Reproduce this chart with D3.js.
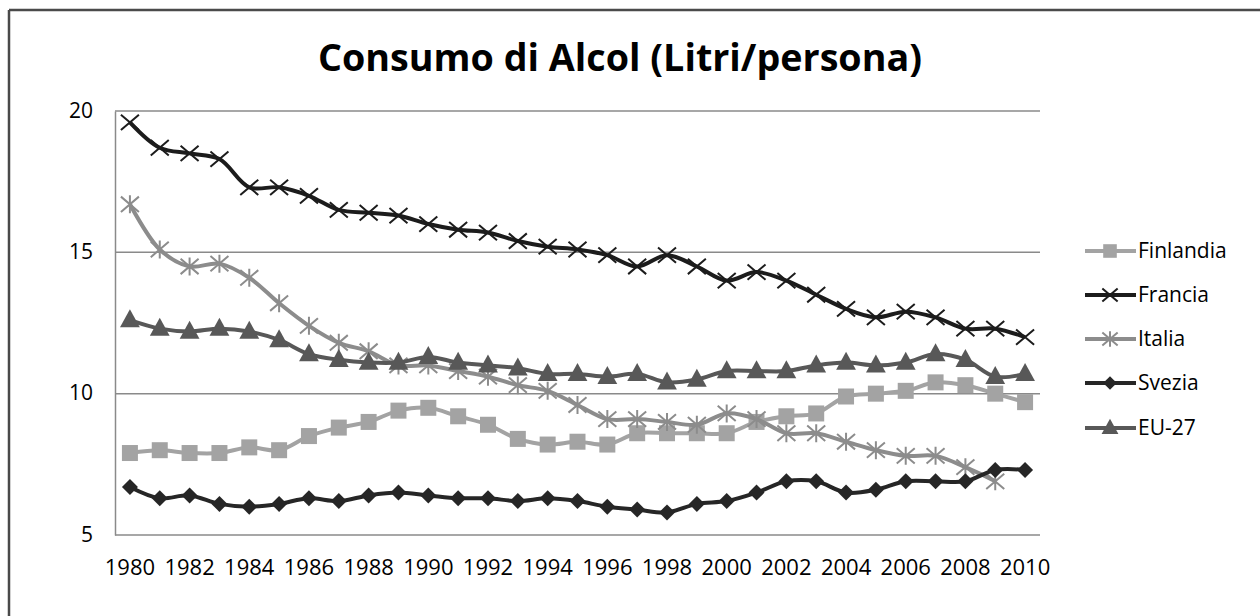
<!DOCTYPE html>
<html><head><meta charset="utf-8">
<script src="https://cdn.jsdelivr.net/npm/d3@7"></script>
<style>html,body{margin:0;padding:0;background:#fff;}svg{display:block;}</style>
</head><body>
<svg id="c" width="1260" height="616"></svg>
<script>
const years = d3.range(1980, 2011);
const yTicks = [5, 10, 15, 20];
const xTickLabels = years.filter(y => y % 2 === 0);
const seriesNames = ["Finlandia", "Francia", "Italia", "Svezia", "EU-27"];
const finlandia = [7.9,8.0,7.9,7.9,8.1,8.0,8.5,8.8,9.0,9.4,9.5,9.2,8.9,8.4,8.2,8.3,8.2,8.6,8.6,8.6,8.6,9.0,9.2,9.3,9.9,10.0,10.1,10.4,10.3,10.0,9.7];
const francia = [19.6,18.7,18.5,18.3,17.3,17.3,17.0,16.5,16.4,16.3,16.0,15.8,15.7,15.4,15.2,15.1,14.9,14.5,14.9,14.5,14.0,14.3,14.0,13.5,13.0,12.7,12.9,12.7,12.3,12.3,12.0];
const italia = [16.7,15.1,14.5,14.6,14.1,13.2,12.4,11.8,11.5,11.0,11.0,10.8,10.6,10.3,10.1,9.6,9.1,9.1,9.0,8.9,9.3,9.1,8.6,8.6,8.3,8.0,7.8,7.8,7.4,6.9,null];
const svezia = [6.7,6.3,6.4,6.1,6.0,6.1,6.3,6.2,6.4,6.5,6.4,6.3,6.3,6.2,6.3,6.2,6.0,5.9,5.8,6.1,6.2,6.5,6.9,6.9,6.5,6.6,6.9,6.9,6.9,7.3,7.3];
const eu27 = [12.6,12.3,12.2,12.3,12.2,11.9,11.4,11.2,11.1,11.1,11.3,11.1,11.0,10.9,10.7,10.7,10.6,10.7,10.4,10.5,10.8,10.8,10.8,11.0,11.1,11.0,11.1,11.4,11.2,10.6,10.7];

const seriesData = [finlandia, francia, italia, svezia, eu27];
const colors = ["#a3a3a3", "#1c1c1c", "#8c8c8c", "#262626", "#585858"];
const symbols = ["square", "x", "asterisk", "diamond", "triangle"];

const svg = d3.select("#c");
const font = "'Open Sans', sans-serif";

// outer frame (top and left lines)
svg.append("line").attr("x1",9).attr("x2",1260).attr("y1",10).attr("y2",10).attr("stroke","#4a4a4a").attr("stroke-width",2.5);
svg.append("line").attr("x1",9).attr("x2",9).attr("y1",10).attr("y2",616).attr("stroke","#4a4a4a").attr("stroke-width",2.5);

const pLeft = 115, pRight = 1040, pTop = 111, pBottom = 535;
const x = d3.scaleBand().domain(years).range([pLeft, pRight]);
const y = d3.scaleLinear().domain([5, 20]).range([pBottom, pTop]);
const cx = d => x(d) + x.bandwidth()/2;

// gridlines
svg.append("g").selectAll("line").data(yTicks).join("line")
  .attr("x1", pLeft).attr("x2", pRight)
  .attr("y1", d => y(d)).attr("y2", d => y(d))
  .attr("stroke", "#8a8a8a").attr("stroke-width", 1.5);

// y axis
const yAxis = d3.axisLeft(y).tickValues(yTicks).tickSize(0).tickPadding(0);
const gy = svg.append("g").attr("transform", `translate(${pLeft},0)`).call(yAxis);
gy.select(".domain").attr("stroke", "#8a8a8a").attr("stroke-width", 1.5);
gy.selectAll("text").attr("x", -22).attr("font-family", font).attr("font-size", 21).attr("fill", "#000").attr("dy", "0.3em");

// x axis
const xAxis = d3.axisBottom(x).tickValues(xTickLabels).tickSize(0).tickPadding(0);
const gx = svg.append("g").attr("transform", `translate(0,${pBottom})`).call(xAxis);
gx.select(".domain").remove();
gx.selectAll("text").attr("y", 32).attr("font-family", font).attr("font-size", 22).attr("fill", "#000").attr("dy", "0.35em");

// lines
const line = d3.line().defined(d => d.v != null).x(d => cx(d.yr)).y(d => y(d.v)).curve(d3.curveCatmullRom.alpha(0.5));

function drawMarker(g, sym, color, size) {
  const s = size;
  if (sym === "square") {
    g.append("rect").attr("x",-s/2).attr("y",-s/2).attr("width",s).attr("height",s).attr("fill",color);
  } else if (sym === "diamond") {
    g.append("path").attr("d",`M0,${-s/2}L${s/2},0L0,${s/2}L${-s/2},0Z`).attr("fill",color);
  } else if (sym === "triangle") {
    g.append("path").attr("d",`M0,${-s*0.6}L${s*0.55},${s*0.4}L${-s*0.55},${s*0.4}Z`).attr("fill",color);
  } else if (sym === "x") {
    const h = s/2;
    g.append("path").attr("d",`M${-h},${-h*0.85}L${h},${h*0.85}M${-h},${h*0.85}L${h},${-h*0.85}`).attr("stroke",color).attr("stroke-width",2).attr("fill","none");
  } else if (sym === "asterisk") {
    const h = s/2;
    g.append("path").attr("d",`M${-h},${-h*0.85}L${h},${h*0.85}M${-h},${h*0.85}L${h},${-h*0.85}M0,${-h}L0,${h}`).attr("stroke",color).attr("stroke-width",2).attr("fill","none");
  }
}
const markerSize = [16, 18, 18, 16, 18];

seriesData.forEach((vals, i) => {
  const pts = years.map((yr, j) => ({yr, v: vals[j]}));
  const g = svg.append("g");
  g.append("path").datum(pts).attr("d", line).attr("fill","none").attr("stroke", colors[i]).attr("stroke-width", 4);
  g.selectAll("g.m").data(pts.filter(d => d.v != null)).join("g").attr("class","m")
    .attr("transform", d => `translate(${cx(d.yr)},${y(d.v)})`)
    .each(function() { drawMarker(d3.select(this), symbols[i], colors[i], markerSize[i]); });
});

// title
svg.append("text").attr("x", 620).attr("y", 71).attr("text-anchor","middle")
  .attr("font-family", font).attr("font-weight", "bold").attr("font-size", 38).attr("fill","#000")
  .attr("textLength", 604).attr("lengthAdjust","spacingAndGlyphs")
  .text("Consumo di Alcol (Litri/persona)");

// legend
const legendY = [251, 295, 339, 383, 428];
seriesNames.forEach((name, i) => {
  const g = svg.append("g").attr("transform", `translate(0,${legendY[i]})`);
  g.append("line").attr("x1",1085).attr("x2",1136).attr("y1",0).attr("y2",0).attr("stroke",colors[i]).attr("stroke-width",4);
  const mg = g.append("g").attr("transform","translate(1110,0)");
  drawMarker(mg, symbols[i], colors[i], markerSize[i]*0.85);
  g.append("text").attr("x",1138).attr("y",0).attr("dy","0.35em").attr("font-family",font).attr("font-size",21).attr("fill","#000").text(name);
});
</script>
</body></html>
